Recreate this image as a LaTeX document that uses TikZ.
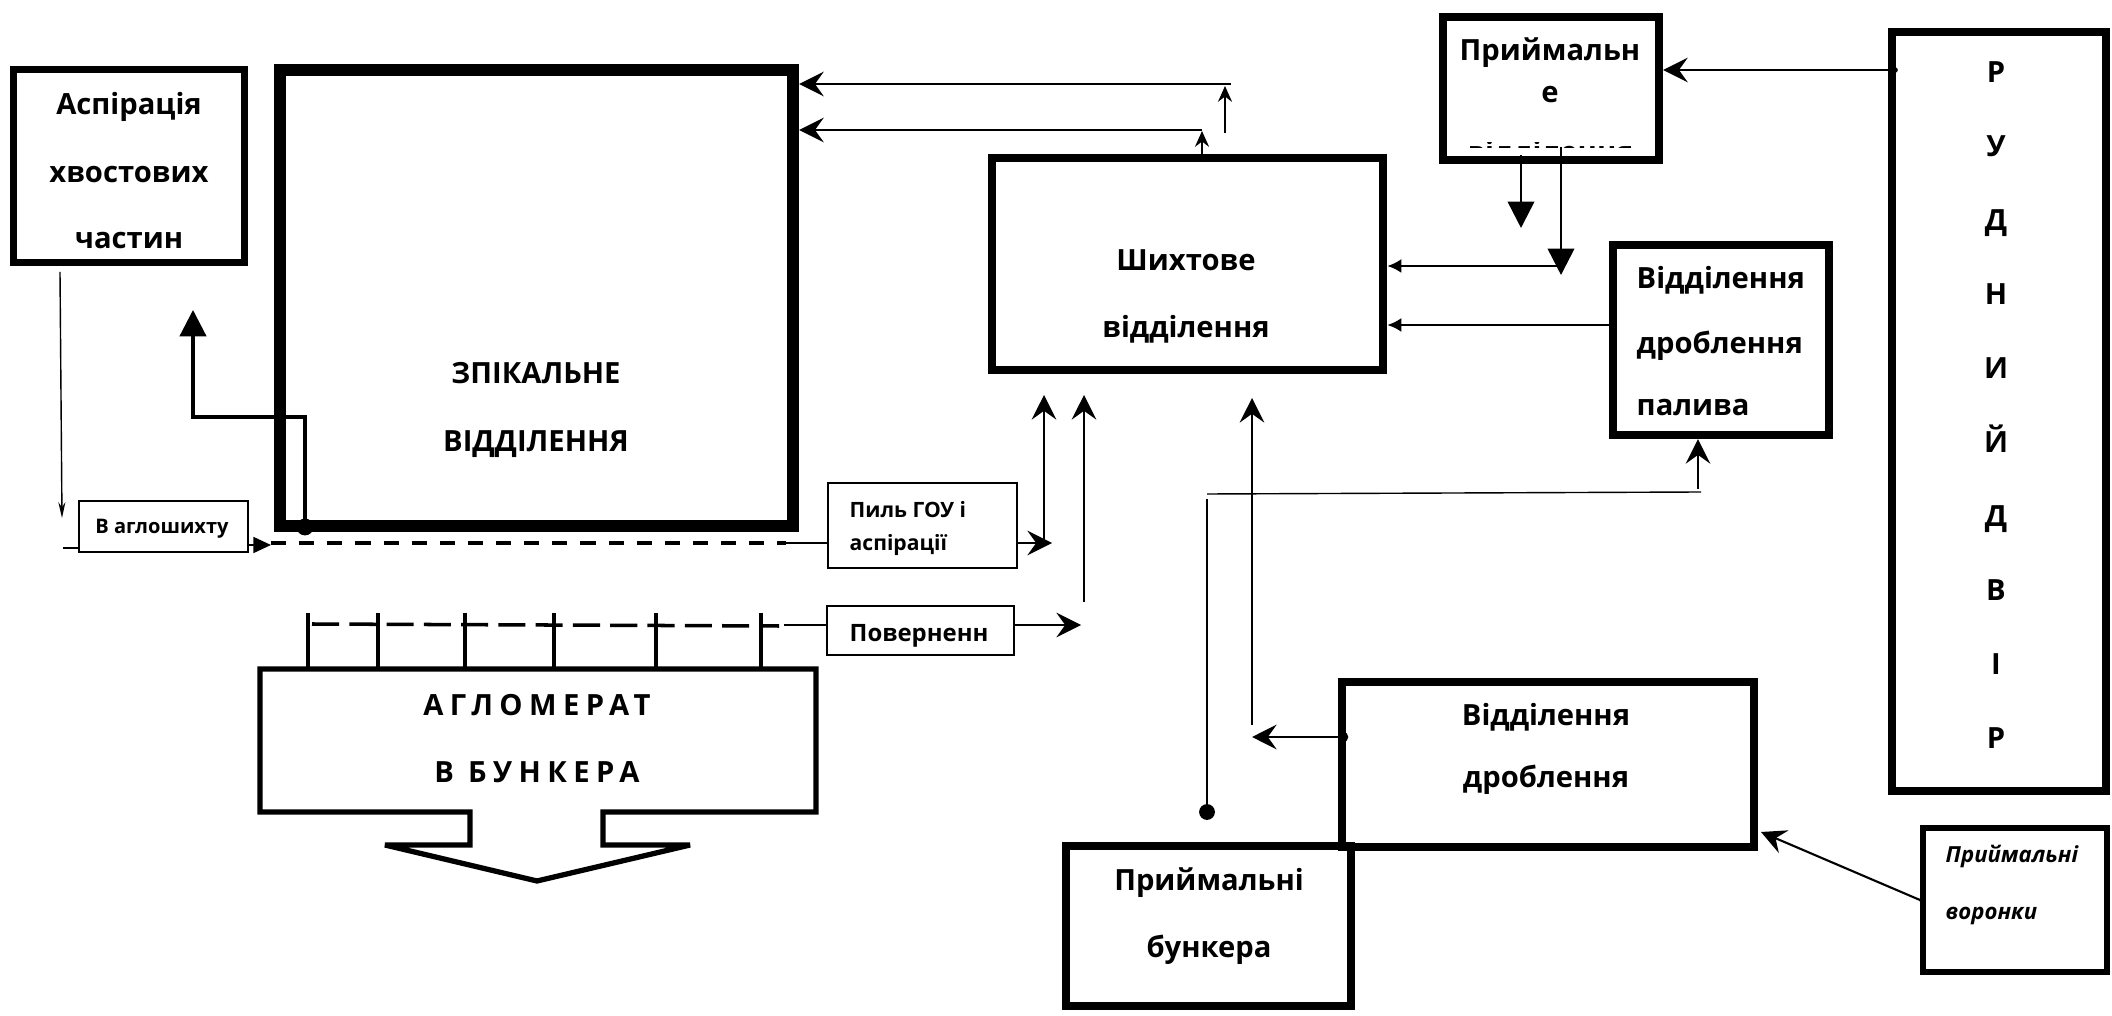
\documentclass[tikz,border=0pt]{standalone}
\usepackage{fontspec}
\setmainfont{Open Sans}
\usetikzlibrary{arrows.meta,positioning}
\tikzset{
	box/.style={draw, line width=#1, inner sep=0pt},
	thinbox/.style={draw, line width=0.45pt, inner sep=0pt},
	lblbig/.style={font=\fontsize{8.3}{10}\selectfont\bfseries, inner sep=0pt, text height=5.9pt, text depth=0pt},
	lblsmall/.style={font=\fontsize{#1}{8}\selectfont\bfseries, inner sep=0pt, text height=0.71*#1, text depth=0pt},
	conn/.style={line width=0.6pt},
	stl/.style={-{Stealth[length=7pt,width=7pt,inset=2.5pt]}},
	smallstl/.style={-{Stealth[length=4.5pt,width=4pt,inset=1.5pt]}},
	tri/.style={-{Triangle[length=7.5pt,width=7.5pt]}},
	blob/.style={circle, fill, inner sep=0pt, minimum size=#1},
}

\begin{document}
\begin{tikzpicture}[x=0.01cm, y=-0.01cm]
			%%%%% START %%%%%
			\useasboundingbox (0,0) rectangle (2112,1016);
			
			% blocks
			\node[box=3.4pt, minimum width=5.13cm, minimum height=4.56cm] (zpik) at (536.5,298) {};
			\node[box=2pt, minimum width=2.30cm, minimum height=1.92cm] (asp) at (129,166) {};
			\node[box=2.4pt, minimum width=3.91cm, minimum height=2.12cm] (shikh) at (1187.5,264) {};
			\node[box=2.3pt, minimum width=2.16cm, minimum height=1.43cm] (prm) at (1551,88.5) {};
			\node[box=2.3pt, minimum width=2.16cm, minimum height=1.90cm] (pal) at (1721,340) {};
			\node[box=2.3pt, minimum width=2.14cm, minimum height=7.59cm] (rud) at (1999,411.5) {};
			\node[box=2.3pt, minimum width=2.85cm, minimum height=1.60cm] (bunk) at (1208.5,926) {};
			\node[box=2.3pt, minimum width=4.12cm, minimum height=1.65cm] (drob) at (1548,764.5) {};
			\node[box=1.7pt, minimum width=1.84cm, minimum height=1.44cm] (vor) at (2015,900) {};
			\node[thinbox, minimum width=1.69cm, minimum height=0.51cm] (agl) at (163.5,526.5) {};
			\node[thinbox, minimum width=1.89cm, minimum height=0.85cm] (pyl) at (922.5,525.5) {};
			\node[thinbox, minimum width=1.87cm, minimum height=0.49cm] (pov) at (920.5,630.5) {};
			
			% texts
			\node[lblbig] (zpik1) at (536,373) {ЗПІКАЛЬНЕ};
			\node[lblbig] (zpik2) at (536,441) {ВІДДІЛЕННЯ};
			\node[lblbig] (asp1) at (129,104) {Аспірація};
			\node[lblbig] (asp2) at (129,172) {хвостових};
			\node[lblbig] (asp3) at (129,238) {частин};
			\node[lblbig] (shikh1) at (1186,260) {Шихтове};
			\node[lblbig] (shikh2) at (1186,327) {відділення};
			\node[lblbig] (prm1) at (1550,50) {Приймальн};
			\node[lblbig] (prm2) at (1550,92) {е};
			\begin{scope}
				\clip (1470,142.5) rectangle (1630,148);
				\node[lblbig] (prm3) at (1550,152) {відділення};
			\end{scope}
			\node[lblbig, anchor=west] (pal1) at (1636,278) {Відділення};
			\node[lblbig, anchor=west] (pal2) at (1636,343) {дроблення};
			\node[lblbig, anchor=west] (pal3) at (1636,405) {палива};
			\foreach \ch [count=\i from 0] in {Р,У,Д,Н,И,Й,Д,В,І,Р}
				\node[lblbig] (rud\i) at (1996,{72+74*\i}) {\ch};
			\node[lblbig] (drob1) at (1546,715) {Відділення};
			\node[lblbig] (drob2) at (1546,777) {дроблення};
			\node[lblbig] (bunk1) at (1209,880) {Приймальні};
			\node[lblbig] (bunk2) at (1209,947) {бункера};
			\node[lblsmall=6.3pt, anchor=west, font=\fontsize{6.3}{8}\selectfont\bfseries\itshape] (vor1) at (1945,855) {Приймальні};
			\node[lblsmall=6.3pt, anchor=west, font=\fontsize{6.3}{8}\selectfont\bfseries\itshape] (vor2) at (1945,912) {воронки};
			\node[lblsmall=5.7pt] (agl1) at (162,526) {В аглошихту};
			\node[lblsmall=6pt, anchor=west] (pyl1) at (849,510) {Пиль ГОУ і};
			\node[lblsmall=6pt, anchor=west] (pyl2) at (849,543) {аспірації};
			\node[lblsmall=6.8pt, anchor=west] (pov1) at (849,633) {Поверненн};
			
			% agglomerate bunker with outlet arrow
			\draw[line width=1.5pt, miter limit=2] (260,669) -- (816,669) -- (816,812) -- (603,812) -- (603,845) -- (690,845)
				-- (537,881) -- (385,845) -- (470,845) -- (470,812) -- (260,812) -- cycle;
			\node[lblbig] (aglo1) at (537,705) {\addfontfeatures{LetterSpace=22}АГЛОМЕРАТ};
			\node[lblbig] (aglo2) at (537,772) {\addfontfeatures{LetterSpace=22}В БУНКЕРА};
			\foreach \x in {308,378,465,554,656,761}
				\draw[line width=1.3pt] (\x,613) -- (\x,669);
			\draw[line width=1pt, dash pattern=on 7.7pt off 2.9pt] (312,624) -- (779,626);
			\draw[conn] (784,625) -- (pov.west |- 0,625);
			\draw[conn, stl] (pov.east |- 0,625) -- (1081,625);
			
			% top returns to sinter plant
			\draw[conn, stl] (1231,84) -- (zpik.east |- 0,84);
			\draw[conn, smallstl] (1225,133) -- (1225,86);
			\draw[conn, smallstl] (shikh.north -| 1202,0) -- (1202,131);
			\draw[conn, stl] (1202,130) -- (zpik.east |- 0,130);
			
			% ore yard and receiving
			\draw[conn, stl] (rud.west |- 0,70) -- (prm.east |- 0,70);
			\node[blob=1.6pt] (d1) at (1895,70) {};
			\draw[line width=0.75pt, tri] (1521,155) -- (1521,228);
			\draw[line width=0.75pt, tri] (1561,147) -- (1561,275);
			\draw[line width=0.65pt, -{Latex[length=4pt,width=4pt]}] (1557,266) -- (shikh.east |- 0,266);
			\draw[line width=0.65pt, -{Latex[length=4pt,width=4pt]}] (pal.west |- 0,325) -- (shikh.east |- 0,325);
			
			% inside sinter plant
			\draw[line width=0.9pt, tri] (305,525) -- (305,417) -- (193,417) -- (193,310);
			\node[blob=4.8pt] (d2) at (305,527) {};
			\draw[line width=0.4pt, -{Stealth[length=4.5pt,width=2pt]}] (60,272) -- (62,518);
			
			% dust line
			\draw[conn] (63,548) -- (agl.west |- 0,548);
			\draw[conn, -{Triangle[length=5pt,width=4.5pt]}] (agl.east |- 0,545) -- (271,545);
			\draw[line width=1.3pt, dash pattern=on 4.3pt off 3.7pt] (271,543) -- (786,543);
			\draw[conn] (786,543) -- (pyl.west |- 0,543);
			\draw[conn, stl] (pyl.east |- 0,543) -- (1052,543);
			\draw[conn, stl] (1044,542) -- (1044,395);
			\draw[conn, stl] (1084,602) -- (1084,395);
			
			% crushing
			\draw[conn, stl] (1252,725) -- (1252,398);
			\draw[conn, stl] (drob.west |- 0,737) -- (1252,737);
			\node[blob=3pt] (d3) at (1343,737) {};
			\draw[line width=0.4pt] (1207,812) -- (1207,499);
			\node[blob=4.5pt] (d4) at (1207,812) {};
			\draw[line width=0.4pt] (1207,494) -- (1701,492);
			\draw[line width=0.4pt, stl] (1698,489) -- (pal.south -| 1698,0);
			\draw[conn, stl] (vor.west |- 0,900) -- (1761,832);
			\node[blob=1.6pt] (d5) at (1922,900) {};
			%%%%% END %%%%%
\end{tikzpicture}
\end{document}
